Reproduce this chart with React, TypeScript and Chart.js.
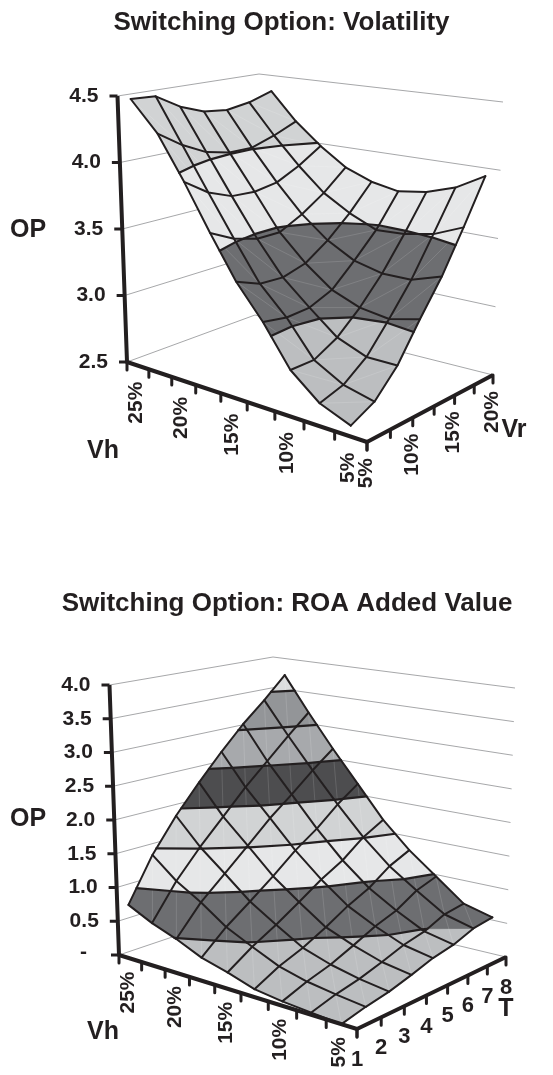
import React, { useEffect, useRef } from "react";
import { Chart, registerables } from "chart.js";
Chart.register(...registerables);

type P = [number, number];

// ---------- data, chart A: option value by Vh (rows) and Vr (columns)
const vhValuesA = ["5%", "7.5%", "10%", "12.5%", "15%", "17.5%", "20%", "22.5%", "25%"];
const vrValuesA = ["5%", "7.5%", "10%", "12.5%", "15%", "17.5%", "20%"];
const opA0 = [2.57, 2.65, 2.82, 3.07, 3.31, 3.61, 3.94];
const opA1 = [2.65, 2.70, 2.82, 3.02, 3.24, 3.52, 3.82];
const opA2 = [2.81, 2.81, 2.90, 3.05, 3.24, 3.48, 3.75];
const opA3 = [3.08, 3.05, 3.06, 3.13, 3.29, 3.47, 3.72];
const opA4 = [3.31, 3.24, 3.23, 3.28, 3.40, 3.56, 3.76];
const opA5 = [3.61, 3.52, 3.47, 3.47, 3.56, 3.68, 3.84];
const opA6 = [3.94, 3.82, 3.75, 3.74, 3.77, 3.86, 3.98];
const opA7 = [4.26, 4.14, 4.05, 4.01, 4.01, 4.07, 4.15];
const opA8 = [4.49, 4.48, 4.37, 4.30, 4.28, 4.31, 4.37];
const zTicksA = [2.5, 3.0, 3.5, 4.0, 4.5];
const vhTickLabelsA = ["5%", "10%", "15%", "20%", "25%"];
const vrTickLabelsA = ["5%", "10%", "15%", "20%"];

// ---------- data, chart B: option value by Vh (rows) and T (columns)
const vhValuesB = ["5%", "7.5%", "10%", "12.5%", "15%", "17.5%", "20%", "22.5%", "25%"];
const tValuesB = ["1", "2", "3", "4", "5", "6", "7", "8"];
const opB0 = [0.0, 0.08, 0.14, 0.23, 0.33, 0.39, 0.5, 0.54];
const opB1 = [0.03, 0.13, 0.2, 0.3, 0.41, 0.48, 0.61, 0.65];
const opB2 = [0.06, 0.19, 0.29, 0.43, 0.58, 0.69, 0.87, 0.97];
const opB3 = [0.11, 0.29, 0.42, 0.59, 0.78, 0.93, 1.15, 1.29];
const opB4 = [0.23, 0.46, 0.65, 0.86, 1.08, 1.26, 1.51, 1.68];
const opB5 = [0.33, 0.64, 0.89, 1.15, 1.43, 1.66, 1.94, 2.17];
const opB6 = [0.49, 0.9, 1.21, 1.52, 1.84, 2.11, 2.4, 2.66];
const opB7 = [0.62, 1.12, 1.52, 1.88, 2.24, 2.56, 2.88, 3.18];
const opB8 = [0.79, 1.42, 1.91, 2.33, 2.72, 3.08, 3.39, 3.73];
const zTicksB = [0, 0.5, 1, 1.5, 2, 2.5, 3, 3.5, 4];
const zTickTextB = ["-", "0.5", "1.0", "1.5", "2.0", "2.5", "3.0", "3.5", "4.0"];
const vhTickLabelsB = ["5%", "10%", "15%", "20%", "25%"];

// band colours, low to high
const bandColoursA = ["#bcbec0", "#6d6e71", "#e6e7e8", "#d1d3d4"];
const bandColoursB = ["#bcbec0", "#6d6e71", "#e6e7e8", "#d1d3d4", "#4d4d4f", "#a7a9ac", "#939598", "#dcddde"];

const INK = "#231f20";
const WALL = "#8f9193";
const FONT = "'Liberation Sans', Arial, sans-serif";

function homography(F: P, L: P, R: P, B: P) {
  const dx1 = L[0] - B[0], dx2 = R[0] - B[0], sx = F[0] - L[0] + B[0] - R[0];
  const dy1 = L[1] - B[1], dy2 = R[1] - B[1], sy = F[1] - L[1] + B[1] - R[1];
  const det = dx1 * dy2 - dx2 * dy1;
  const g = (sx * dy2 - dx2 * sy) / det, h = (dx1 * sy - sx * dy1) / det;
  const a = L[0] - F[0] + g * L[0], b = R[0] - F[0] + h * R[0];
  const d = L[1] - F[1] + g * L[1], e = R[1] - F[1] + h * R[1];
  return (u: number, v: number): P => {
    const w = g * u + h * v + 1;
    return [(a * u + b * v + F[0]) / w, (d * u + e * v + F[1]) / w];
  };
}

type Text = { t: string; x: number; y: number; size: number; align: CanvasTextAlign; rot?: boolean };
type Spec = {
  rows: number[][];
  zTicks: number[];
  bands: string[];
  floor: [P, P, P, P];
  top: [P, P, P, P];
  yRange: [number, number];
  uTicks: number;
  vTicks: number;
  antiSeam: boolean;
  texts: (pr: (u: number, v: number, z: number) => P) => Text[];
};

function buildDatasets(s: Spec) {
  const floorH = homography(...s.floor);
  const topH = homography(...s.top);
  const zMin = s.zTicks[0], zMax = s.zTicks[s.zTicks.length - 1];
  const pr = (u: number, v: number, z: number): P => {
    const a = floorH(u, v), b = topH(u, v), t = (z - zMin) / (zMax - zMin);
    return [a[0] + (b[0] - a[0]) * t, a[1] + (b[1] - a[1]) * t];
  };
  const nI = s.rows.length, nJ = s.rows[0].length;
  const gp = (i: number, j: number, z: number) => pr((i + 0.5) / s.uTicks, j / (nJ - 1), z);
  const toPts = (a: P[]) => a.map((p) => ({ x: p[0], y: p[1] }));
  const draws: any[] = [];
  const line = (a: P[], color: string, width: number, cap: CanvasLineCap = "butt") =>
    draws.push({ data: toPts(a), borderColor: color, borderWidth: width, borderCapStyle: cap, borderJoinStyle: "round", fill: false, tension: 0 });

  // wall gridlines
  for (const z of s.zTicks) line([pr(1, 0, z), pr(1, 1, z), pr(0, 1, z)], WALL, 0.8);

  // surface fills, far to near, cut into value bands
  type V = [number, number, number];
  const clip = (poly: V[], lvl: number, keepAbove: boolean) => {
    const out: V[] = [];
    for (let k = 0; k < poly.length; k++) {
      const a = poly[k], b = poly[(k + 1) % poly.length];
      const ia = keepAbove ? a[2] >= lvl : a[2] <= lvl;
      const ib = keepAbove ? b[2] >= lvl : b[2] <= lvl;
      if (ia) out.push(a);
      if (ia !== ib) {
        const t = (lvl - a[2]) / (b[2] - a[2]);
        out.push([a[0] + (b[0] - a[0]) * t, a[1] + (b[1] - a[1]) * t, lvl]);
      }
    }
    return out;
  };
  for (let i = nI - 2; i >= 0; i--) {
    for (let j = nJ - 2; j >= 0; j--) {
      const quad: V[] = [
        [i, j, s.rows[i][j]], [i + 1, j, s.rows[i + 1][j]],
        [i + 1, j + 1, s.rows[i + 1][j + 1]], [i, j + 1, s.rows[i][j + 1]],
      ];
      s.bands.forEach((colour, b) => {
        let poly = clip(quad, s.zTicks[b], true);
        if (poly.length) poly = clip(poly, s.zTicks[b + 1], false);
        if (poly.length < 3) return;
        const pts = poly.map((q) => gp(q[0], q[1], q[2]));
        pts.push(pts[0]);
        draws.push({ data: toPts(pts), borderColor: colour, borderWidth: 0.7, backgroundColor: colour, fill: "shape", tension: 0 });
      });
    }
  }
  // faint facet seams
  for (let i = 0; i < nI - 1; i++)
    for (let j = 0; j < nJ - 1; j++) {
      if (s.antiSeam) line([gp(i + 1, j, s.rows[i + 1][j]), gp(i, j + 1, s.rows[i][j + 1])], "rgba(255,255,255,0.22)", 0.6);
      else line([gp(i, j, s.rows[i][j]), gp(i + 1, j + 1, s.rows[i + 1][j + 1])], "rgba(255,255,255,0.22)", 0.6);
    }

  // contour lines at every band edge
  for (let b = 1; b < s.bands.length; b++) {
    const lvl = s.zTicks[b];
    for (let i = 0; i < nI - 1; i++) {
      for (let j = 0; j < nJ - 1; j++) {
        const c: V[] = [
          [i, j, s.rows[i][j]], [i + 1, j, s.rows[i + 1][j]],
          [i + 1, j + 1, s.rows[i + 1][j + 1]], [i, j + 1, s.rows[i][j + 1]],
        ];
        const hits: P[] = [];
        for (let k = 0; k < 4; k++) {
          const p = c[k], q = c[(k + 1) % 4];
          if ((p[2] - lvl) * (q[2] - lvl) < 0) {
            const t = (lvl - p[2]) / (q[2] - p[2]);
            hits.push(gp(p[0] + (q[0] - p[0]) * t, p[1] + (q[1] - p[1]) * t, lvl));
          }
        }
        for (let h = 0; h + 1 < hits.length; h += 2) line([hits[h], hits[h + 1]], INK, 2.2, "round");
      }
    }
  }
  // mesh
  for (let i = 0; i < nI; i++) line(s.rows[i].map((z, j) => gp(i, j, z)), INK, 2, "round");
  for (let j = 0; j < nJ; j++) line(s.rows.map((r, i) => gp(i, j, r[j])), INK, 2, "round");

  // axes and tick marks
  line([pr(1, 0, zMax), pr(1, 0, zMin), pr(0, 0, zMin), pr(0, 1, zMin)], INK, 4);
  for (const z of s.zTicks) {
    const p = pr(1, 0, z);
    line([p, [p[0] - 8, p[1]]], INK, 3);
  }
  for (let k = 0; k <= s.uTicks; k++) {
    const p = pr(k / s.uTicks, 0, zMin);
    line([p, [p[0], p[1] + 8]], INK, 3);
  }
  for (let k = 0; k <= s.vTicks; k++) {
    const p = pr(0, k / s.vTicks, zMin);
    line([p, [p[0], p[1] + 8]], INK, 3);
  }
  return { datasets: draws.reverse(), texts: s.texts(pr) };
}

const specA: Spec = {
  rows: [opA0, opA1, opA2, opA3, opA4, opA5, opA6, opA7, opA8],
  zTicks: zTicksA,
  bands: bandColoursA,
  floor: [[367, 442], [127, 362], [493, 375], [255, 315]],
  top: [[371, 128], [117.5, 96], [503, 102], [259, 74]],
  yRange: [0, 537],
  uTicks: vhValuesA.length,
  vTicks: vrValuesA.length - 1,
  antiSeam: true,
  texts: (pr) => {
    const out: Text[] = [
      { t: "Switching Option: Volatility", x: 281.5, y: 23, size: 26, align: "center" },
      { t: "OP", x: 28, y: 230, size: 25, align: "center" },
      { t: "Vh", x: 103, y: 451, size: 25, align: "center" },
      { t: "Vr", x: 514, y: 430, size: 25, align: "center" },
    ];
    zTicksA.forEach((z) => {
      const p = pr(1, 0, z);
      out.push({ t: z.toFixed(1), x: p[0] - 19, y: p[1], size: 21, align: "right" });
    });
    vhTickLabelsA.forEach((t) => {
      const p = pr((vhValuesA.indexOf(t) + 0.5) / vhValuesA.length, 0, 2.5);
      out.push({ t, x: p[0] - 2, y: p[1] + 16, size: 21, align: "right", rot: true });
    });
    vrTickLabelsA.forEach((t) => {
      const p = pr(0, vrValuesA.indexOf(t) / (vrValuesA.length - 1), 2.5);
      out.push({ t, x: p[0] - 1, y: p[1] + 16, size: 21, align: "right", rot: true });
    });
    return out;
  },
};

const specB: Spec = {
  rows: [opB0, opB1, opB2, opB3, opB4, opB5, opB6, opB7, opB8],
  zTicks: zTicksB,
  bands: bandColoursB,
  floor: [[357, 1029], [119, 955], [506, 957], [276, 902]],
  top: [[360, 727], [109.5, 685], [515, 688], [273, 657]],
  yRange: [537, 1075],
  uTicks: vhValuesB.length,
  vTicks: tValuesB.length - 1,
  antiSeam: false,
  texts: (pr) => {
    const out: Text[] = [
      { t: "Switching Option: ROA Added Value", x: 287, y: 604, size: 26, align: "center" },
      { t: "OP", x: 28, y: 819, size: 25, align: "center" },
      { t: "Vh", x: 103, y: 1032, size: 25, align: "center" },
      { t: "T", x: 506, y: 1009, size: 25, align: "center" },
    ];
    zTicksB.forEach((z, k) => {
      const p = pr(1, 0, z);
      out.push({ t: zTickTextB[k], x: p[0] - (z === 0 ? 32 : 19), y: p[1] - (z === 0 ? 3 : 0), size: 21, align: "right" });
    });
    vhTickLabelsB.forEach((t) => {
      const p = pr((vhValuesB.indexOf(t) + 0.5) / vhValuesB.length, 0, 0);
      out.push({ t, x: p[0] - 2, y: p[1] + 13, size: 21, align: "right", rot: true });
    });
    tValuesB.forEach((t, k) => {
      const p = pr(0, k / (tValuesB.length - 1), 0);
      out.push({ t, x: p[0], y: p[1] + 31, size: 22, align: "center" });
    });
    return out;
  },
};

function makeChart(canvas: HTMLCanvasElement, s: Spec) {
  const { datasets, texts } = buildDatasets(s);
  return new Chart(canvas, {
    type: "scatter",
    data: { datasets: datasets.map((d) => ({ ...d, showLine: true, pointRadius: 0, clip: false })) },
    options: {
      animation: false,
      responsive: false,
      events: [],
      layout: { padding: 0 },
      scales: {
        x: { type: "linear", display: false, min: 0, max: 553 },
        y: { type: "linear", display: false, reverse: true, min: s.yRange[0], max: s.yRange[1] },
      },
      plugins: { legend: { display: false }, tooltip: { enabled: false }, title: { display: false } },
    },
    plugins: [
      {
        id: "labels",
        afterDraw(chart: any) {
          const ctx = chart.ctx;
          const sx = chart.scales.x, sy = chart.scales.y;
          ctx.save();
          ctx.fillStyle = INK;
          ctx.textBaseline = "middle";
          for (const t of texts) {
            ctx.save();
            ctx.font = `bold ${t.size}px ${FONT}`;
            ctx.textAlign = t.align;
            ctx.translate(sx.getPixelForValue(t.x), sy.getPixelForValue(t.y));
            if (t.rot) ctx.rotate(-Math.PI / 2);
            ctx.fillText(t.t, 0, 0);
            ctx.restore();
          }
          ctx.restore();
        },
      },
    ],
  } as any);
}

export default function App() {
  const a = useRef<HTMLCanvasElement>(null);
  const b = useRef<HTMLCanvasElement>(null);
  useEffect(() => {
    const c1 = makeChart(a.current!, specA);
    const c2 = makeChart(b.current!, specB);
    return () => {
      c1.destroy();
      c2.destroy();
    };
  }, []);
  return (
    <div style={{ position: "absolute", left: 0, top: 0, width: 553, height: 1075, background: "#fff" }}>
      <canvas ref={a} width={553} height={537} style={{ display: "block", width: 553, height: 537 }} />
      <canvas ref={b} width={553} height={538} style={{ display: "block", width: 553, height: 538 }} />
    </div>
  );
}
